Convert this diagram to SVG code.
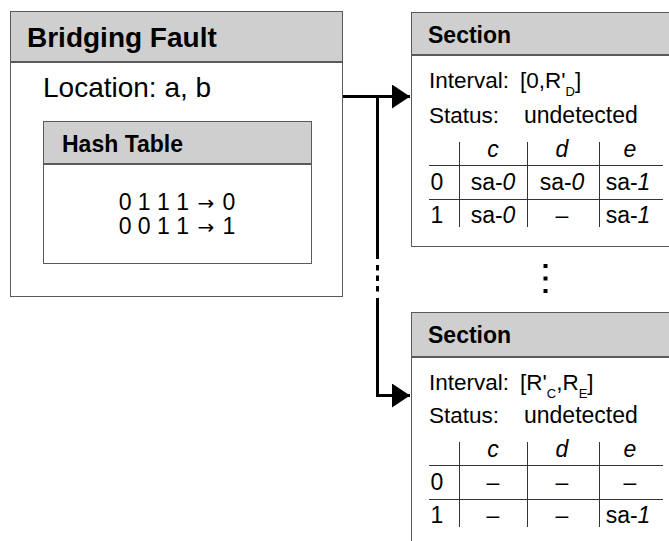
<svg xmlns="http://www.w3.org/2000/svg" width="669" height="541" viewBox="0 0 669 541">
  <style>
    text { font-family: "Liberation Sans", Arial, sans-serif; fill: #000; }
    .hdr { fill: #cfcfcf; stroke: #5a5a5a; stroke-width: 1; }
    .body { fill: #fff; stroke: #5a5a5a; stroke-width: 1; }
    .title { font-weight: bold; font-size: 28px; }
    .sub { font-weight: bold; font-size: 23px; }
    .loc { font-size: 28px; }
    .txt { font-size: 22.5px; }
    .cell { font-size: 23px; text-anchor: middle; }
    .it { font-style: italic; }
    .arr { font-family: "DejaVu Sans", sans-serif; font-size: 20px; }
    .grid { stroke: #333; stroke-width: 1; fill: none; }
    .wire { stroke: #000; stroke-width: 3; fill: none; }
  </style>
  <defs>
    <marker id="arrow" markerUnits="userSpaceOnUse" markerWidth="19" markerHeight="24" refX="18" refY="12" orient="auto">
      <path d="M0,0 L18,12 L0,24 Z" fill="#000"/>
    </marker>
  </defs>

  <!-- fault record -->
  <g id="bridging-fault">
    <rect class="hdr" x="10.5" y="11.5" width="332" height="50"/>
    <rect class="body" x="10.5" y="62.5" width="332" height="234"/>
    <text class="title" x="27" y="47">Bridging Fault</text>
    <text class="loc" x="43" y="97">Location: a, b</text>
  </g>

  <g id="hash-table">
    <rect class="hdr" x="43.5" y="121.5" width="268" height="42"/>
    <rect class="body" x="43.5" y="164.5" width="268" height="99"/>
    <text class="sub" x="62" y="152">Hash Table</text>
    <text class="cell" x="177" y="210">0 1 1 1 <tspan class="arr" dx="2">→</tspan><tspan dx="2"> 0</tspan></text>
    <text class="cell" x="177" y="234">0 0 1 1 <tspan class="arr" dx="2">→</tspan><tspan dx="2"> 1</tspan></text>
  </g>

  <!-- first section -->
  <g id="section-1">
    <rect class="hdr" x="411.5" y="12.5" width="270" height="42"/>
    <rect class="body" x="411.5" y="55.5" width="270" height="191"/>
    <text class="sub" x="428" y="43">Section</text>
    <text class="txt" x="429" y="88">Interval:</text>
    <text class="txt" x="520" y="88">[0,R'<tspan font-size="13" dy="8">D</tspan><tspan dy="-8">]</tspan></text>
    <text class="txt" x="429" y="123">Status:</text>
    <text class="txt" x="524" y="123" style="font-size:23px">undetected</text>
    <path class="grid" d="M429,165.5 H663 M429,199.5 H663 M459.5,142 V227 M527.5,142 V227 M599.5,142 V227"/>
    <text class="cell it" x="493" y="157">c</text>
    <text class="cell it" x="562" y="157">d</text>
    <text class="cell it" x="630" y="157">e</text>
    <text class="cell" x="437" y="190">0</text>
    <text class="cell" x="493" y="190">sa-<tspan class="it">0</tspan></text>
    <text class="cell" x="562" y="190">sa-<tspan class="it">0</tspan></text>
    <text class="cell" x="628" y="190">sa-<tspan class="it">1</tspan></text>
    <text class="cell" x="437" y="223">1</text>
    <text class="cell" x="493" y="223">sa-<tspan class="it">0</tspan></text>
    <text class="cell" x="562" y="223">–</text>
    <text class="cell" x="628" y="223">sa-<tspan class="it">1</tspan></text>
  </g>

  <!-- last section -->
  <g id="section-2">
    <rect class="hdr" x="411.5" y="312.5" width="270" height="44"/>
    <rect class="body" x="411.5" y="357.5" width="270" height="200"/>
    <text class="sub" x="428" y="343">Section</text>
    <text class="txt" x="429" y="390">Interval:</text>
    <text class="txt" x="520" y="390">[R'<tspan font-size="13" dy="8">C</tspan><tspan dy="-8">,R</tspan><tspan font-size="13" dy="8">E</tspan><tspan dy="-8">]</tspan></text>
    <text class="txt" x="429" y="423">Status:</text>
    <text class="txt" x="524" y="423" style="font-size:23px">undetected</text>
    <path class="grid" d="M429,465.5 H663 M429,499.5 H663 M459.5,442 V527 M527.5,442 V527 M599.5,442 V527"/>
    <text class="cell it" x="493" y="457">c</text>
    <text class="cell it" x="562" y="457">d</text>
    <text class="cell it" x="630" y="457">e</text>
    <text class="cell" x="437" y="490">0</text>
    <text class="cell" x="493" y="490">–</text>
    <text class="cell" x="562" y="490">–</text>
    <text class="cell" x="630" y="490">–</text>
    <text class="cell" x="437" y="523">1</text>
    <text class="cell" x="493" y="523">–</text>
    <text class="cell" x="562" y="523">–</text>
    <text class="cell" x="628" y="523">sa-<tspan class="it">1</tspan></text>
  </g>

  <!-- vertical ellipsis between sections -->
  <g id="more-sections">
    <path d="M545.5,264 V294" stroke="#000" stroke-width="4" stroke-dasharray="4,8.5" fill="none"/>
  </g>

  <!-- connectors -->
  <g id="connectors">
    <path class="wire" d="M343,96.5 H410" marker-end="url(#arrow)"/>
    <path class="wire" d="M377.5,96.5 V259"/>
    <path class="wire" d="M377.5,265 V294" stroke-dasharray="5.5,5"/>
    <path class="wire" d="M377.5,298 V395.5 H410" marker-end="url(#arrow)"/>
  </g>
</svg>
